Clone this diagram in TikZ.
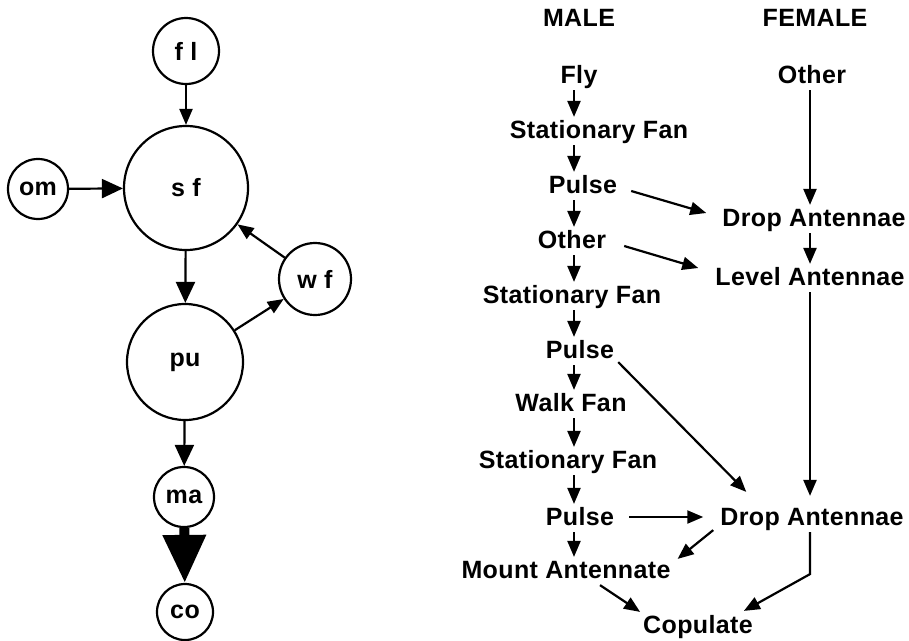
\documentclass[tikz,border=0pt]{standalone}
\usepackage{fontspec}
\setmainfont{Liberation Sans}[LetterSpace=1.5]
\usetikzlibrary{arrows.meta}

\begin{document}
\begin{tikzpicture}[x=1pt,y=-1pt,line width=2.2pt,
  font=\fontsize{25}{30}\selectfont\bfseries,
  st/.style={circle,draw,inner sep=0pt,minimum size=#1},
  lbl/.style={anchor=base,inner sep=2pt,text height=18pt,text depth=4pt},
  ar/.style={-{Triangle[length=16pt,width=13pt]}},
  arb/.style={-{Triangle[length=21pt,width=19pt]}}]
\useasboundingbox (0,0) rectangle (909,640);
% state graph
\node[st=66pt] (fl) at (186,51) {f l};
\node[st=124pt] (sf) at (186,188) {s f};
\node[st=60pt] (om) at (38,189) {om};
\node[st=72pt] (wf) at (315,279) {w f};
\node[st=116pt] (pu) at (185,362) {pu};
\node[st=60pt] (ma) at (184,497) {ma};
\node[st=56pt] (co) at (185,612) {co};
\draw[ar](fl)--(sf);
\draw[arb](om)--(sf);
\draw[arb](sf)--(pu);
\draw[ar](wf)--(sf);
\draw[ar](pu)--(wf);
\draw[arb](pu)--(ma);
\draw[line width=10pt,-{Triangle[length=48pt,width=41pt]}](ma)--(co);
% sequences
\coordinate (mx) at (574,0);
\coordinate (fx) at (810,0);
\node[lbl] (male) at (579,26) {MALE};
\node[lbl] (female) at (815,26) {FEMALE};
\node[lbl] (fly) at (579,83) {Fly};
\node[lbl] (oth0) at (812,83) {Other};
\node[lbl] (sf1) at (599,138) {Stationary Fan};
\node[lbl] (pul1) at (583,193) {Pulse};
\node[lbl] (oth1) at (572,248) {Other};
\node[lbl] (sf2) at (572,303) {Stationary Fan};
\node[lbl] (drop1) at (814,226) {Drop Antennae};
\node[lbl] (lev) at (810,285) {Level Antennae};
\node[lbl] (pul2) at (580,358) {Pulse};
\node[lbl] (walk) at (571,411) {Walk Fan};
\node[lbl] (sf3) at (568,468) {Stationary Fan};
\node[lbl] (pul3) at (580,525) {Pulse};
\node[lbl] (drop2) at (812,525) {Drop Antennae};
\node[lbl] (mount) at (566,578) {Mount Antennate};
\node[lbl] (cop) at (698,633) {Copulate};
\draw[ar](fly.south-|mx)--(sf1.north-|mx);
\draw[ar](sf1.south-|mx)--(pul1.north-|mx);
\draw[ar](pul1.south-|mx)--(oth1.north-|mx);
\draw[ar](oth1.south-|mx)--(sf2.north-|mx);
\draw[ar](sf2.south-|mx)--(pul2.north-|mx);
\draw[ar](pul2.south-|mx)--(walk.north-|mx);
\draw[ar](walk.south-|mx)--(sf3.north-|mx);
\draw[ar](sf3.south-|mx)--(pul3.north-|mx);
\draw[ar](pul3.south-|mx)--(mount.north-|mx);
\draw[ar](oth0.south-|fx)--(drop1.north-|fx);
\draw[ar](drop1.south-|fx)--(lev.north-|fx);
\draw[ar,shorten >=8pt](lev.south-|fx)--(drop2.north-|fx);
\draw[ar]([xshift=11pt,yshift=-5pt]pul1.east)--([xshift=-13pt,yshift=6pt]drop1.west);
\draw[ar]([xshift=15pt,yshift=-5pt]oth1.east)--([xshift=-14pt,yshift=10pt]lev.west);
\draw[ar]([xshift=1pt,yshift=3pt]pul2.south east)--([xshift=29pt,yshift=12pt]drop2.north west);
\draw[ar]([xshift=12pt,yshift=1pt]pul3.east)--([xshift=-14pt,yshift=1pt]drop2.west);
\draw[ar]([xshift=-4pt,yshift=2pt]drop2.south west)--([xshift=4pt,yshift=-2pt]mount.north east);
\draw[ar]([xshift=34pt]mount.south)--(cop.north west);
\draw[ar](drop2.south-|fx)--++(0,42)--([xshift=-12pt,yshift=1pt]cop.north east);
\end{tikzpicture}
\end{document}
